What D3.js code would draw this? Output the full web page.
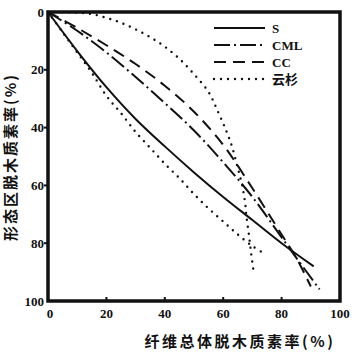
<!DOCTYPE html>
<html lang="zh">
<head>
<meta charset="utf-8">
<title>脱木质素率</title>
<script src="https://cdn.jsdelivr.net/npm/d3@7"></script>
<style>
  body { margin: 0; background: #fff; }
  .tick-label { font-family: "Liberation Serif", serif; font-weight: bold; font-size: 13px; fill: #111; }
  .title { font-family: "Noto Sans CJK SC", sans-serif; font-weight: bold; font-size: 15px; fill: #111; }
</style>
</head>
<body>
<script>
// x: 纤维总体脱木质素率, y: 形态区脱木质素率 (both %)
const xTicks = [0, 20, 40, 60, 80, 100];
const yTicks = [0, 20, 40, 60, 80, 100];

const sX = [0, 10, 20, 30, 40, 50, 60, 70, 80, 91];
const sY = [0, 13.5, 26, 37, 46.5, 55.5, 64, 72, 80, 88];

const cmlX = [0, 10, 20, 30, 40, 50, 60, 70, 80, 85, 93];
const cmlY = [0, 6.5, 14, 22.5, 31.5, 41, 52, 64, 78, 85, 96];

const ccX = [0, 10, 20, 30, 40, 50, 60, 70, 80, 85, 90];
const ccY = [0, 5.5, 11.5, 18, 25.5, 34.5, 46, 61, 77, 85, 95];

// 云杉: two dotted branches
const spruceUpX = [0, 10, 15, 20, 25, 30, 35, 40, 45, 50, 55, 58, 61, 63, 65, 66.5, 67.5, 68, 68.8, 69.5, 70.3];
const spruceUpY = [0, 0.2, 0.7, 2, 3.7, 6, 8.7, 12, 16.2, 21.5, 27.7, 34, 41, 46.5, 54, 60, 66, 71, 77, 83, 89];
const spruceLowX = [0, 5, 10, 15, 20, 25, 30, 35, 40, 45, 50, 55, 60, 65, 70, 74];
const spruceLowY = [0, 7, 14, 21, 29, 35, 41.5, 47, 52.5, 57.5, 63, 68, 72.5, 77, 81, 83.5];

const legendLabels = ["S", "CML", "CC", "云杉"];

const w = 352, h = 352;
const svg = d3.select("body").append("svg").attr("width", w).attr("height", h);

const x = d3.scaleLinear().domain([0, 100]).range([48, 340]);
const y = d3.scaleLinear().domain([0, 100]).range([12, 301]);

const styles = [
  { dash: null, width: 2 },
  { dash: "16,4,2,4", width: 2 },
  { dash: "12,7", width: 2 },
  { dash: "0,7", width: 2.4, cap: "round" }
];

const line = d3.line().x(d => x(d[0])).y(d => y(d[1])).curve(d3.curveCatmullRom.alpha(0.5));
const zip = (a, b) => a.map((v, i) => [v, b[i]]);

const series = [
  [zip(sX, sY), styles[0]],
  [zip(cmlX, cmlY), styles[1]],
  [zip(ccX, ccY), styles[2]],
  [zip(spruceUpX, spruceUpY), styles[3]],
  [zip(spruceLowX, spruceLowY), styles[3]]
];

series.forEach(([pts, st]) => {
  svg.append("path")
    .attr("d", line(pts))
    .attr("fill", "none")
    .attr("stroke", "#111")
    .attr("stroke-width", st.width)
    .attr("stroke-dasharray", st.dash)
    .attr("stroke-linecap", st.cap || "butt");
});

// frame
svg.append("rect")
  .attr("x", x(0)).attr("y", y(0))
  .attr("width", x(100) - x(0)).attr("height", y(100) - y(0))
  .attr("fill", "none").attr("stroke", "#111").attr("stroke-width", 3.5);

// ticks
svg.selectAll(".xt").data(xTicks.slice(1, -1)).enter().append("line")
  .attr("x1", d => x(d)).attr("x2", d => x(d))
  .attr("y1", y(100)).attr("y2", y(100) - 4)
  .attr("stroke", "#111").attr("stroke-width", 2);
svg.selectAll(".yt").data(yTicks.slice(1, -1)).enter().append("line")
  .attr("x1", x(0)).attr("x2", x(0) - 4)
  .attr("y1", d => y(d)).attr("y2", d => y(d))
  .attr("stroke", "#111").attr("stroke-width", 2);

svg.selectAll(".xl").data(xTicks).enter().append("text")
  .attr("class", "tick-label")
  .attr("x", d => x(d) + (d === 0 ? 2 : 0)).attr("y", 318)
  .attr("text-anchor", "middle")
  .text(d => d);
svg.selectAll(".yl").data(yTicks).enter().append("text")
  .attr("class", "tick-label")
  .attr("x", 44).attr("y", d => y(d))
  .attr("dy", "0.35em")
  .attr("text-anchor", "end")
  .text(d => d);

// titles
svg.append("text").attr("class", "title")
  .attr("x", 240).attr("y", 347)
  .attr("text-anchor", "middle")
  .attr("letter-spacing", 2.5)
  .text("纤维总体脱木质素率(%)");
svg.append("text").attr("class", "title")
  .attr("transform", "translate(16,157) rotate(-90)")
  .attr("text-anchor", "middle")
  .attr("letter-spacing", 2)
  .text("形态区脱木质素率(%)");

// legend
const legY = [28, 45, 62, 79];
legendLabels.forEach((lab, i) => {
  const st = styles[i];
  svg.append("line")
    .attr("x1", 214).attr("x2", 265)
    .attr("y1", legY[i]).attr("y2", legY[i])
    .attr("stroke", "#111").attr("stroke-width", st.width)
    .attr("stroke-dasharray", st.dash)
    .attr("stroke-linecap", st.cap || "butt");
  svg.append("text")
    .attr("class", i === 3 ? "title" : "tick-label")
    .attr("x", 272).attr("y", legY[i]).attr("dy", "0.35em")
    .style("font-size", "13px")
    .text(lab);
});
</script>
</body>
</html>
